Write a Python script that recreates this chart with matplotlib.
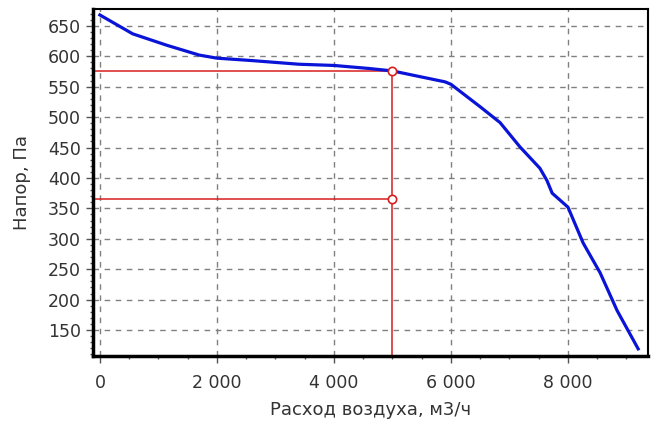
import matplotlib
matplotlib.use("Agg")
import matplotlib.pyplot as plt
from matplotlib.ticker import MultipleLocator, FuncFormatter

X_AXIS_LABEL = "Расход воздуха, м3/ч"
Y_AXIS_LABEL = "Напор, Па"

# fan curve
flow = [0, 560, 1150, 1700, 2000, 2600, 3400, 4000, 4600, 5000, 5400, 5900,
        6000, 6270, 6500, 6840, 7180, 7520, 7640, 7730, 8000, 8260, 8550, 8840, 9200]
pressure = [668, 637, 618, 602, 597, 593, 587, 585, 580, 576, 568, 558,
            554, 534, 517, 491, 451, 416, 396, 375, 352, 293, 244, 182, 119]

# operating point
work_flow = 5000
work_pressure = [576, 365]


def thousands(v, pos):
    return f"{int(v):,}".replace(",", " ")


fig = plt.figure(figsize=(6.54, 4.23), dpi=100)
ax = fig.add_axes([0.142, 0.158, 0.849, 0.821])

ax.plot(flow, pressure, color="#0a14d8", lw=2.3, zorder=3)

# red guide lines
for p in work_pressure:
    ax.plot([-120, work_flow], [p, p], color="#d81e1e", lw=1.1, zorder=2)
ax.plot([work_flow, work_flow], [work_pressure[0], 107], color="#d81e1e", lw=1.1, zorder=2)
ax.plot([work_flow] * 2, work_pressure, "o", ms=6, mfc="white", mec="#d81e1e",
        mew=1.2, zorder=4, linestyle="none")

ax.set_xlim(-120, 9370)
ax.set_ylim(107, 678)
ax.xaxis.set_major_locator(MultipleLocator(2000))
ax.xaxis.set_minor_locator(MultipleLocator(500))
ax.yaxis.set_major_locator(MultipleLocator(50))
ax.yaxis.set_minor_locator(MultipleLocator(10))
ax.xaxis.set_major_formatter(FuncFormatter(thousands))
ax.set_yticks(range(150, 651, 50))

ax.grid(True, which="major", color="#808080", linestyle=(0, (4, 4)), lw=1.0)
ax.tick_params(which="major", direction="out", length=5, width=1, colors="#555555",
               labelcolor="#333333", labelsize=12.5)
ax.tick_params(axis="x", which="major", pad=8)
ax.tick_params(which="minor", direction="out", length=2.5, width=1, colors="#555555")
for side in ["left", "bottom"]:
    ax.spines[side].set_linewidth(2.5)
for side in ["top", "right"]:
    ax.spines[side].set_linewidth(1.5)

ax.set_xlabel(X_AXIS_LABEL, fontsize=13, color="#333333", labelpad=6)
ax.set_ylabel(Y_AXIS_LABEL, fontsize=13, color="#333333", labelpad=12)

fig.savefig("out.png", dpi=100)
plt.close(fig)
